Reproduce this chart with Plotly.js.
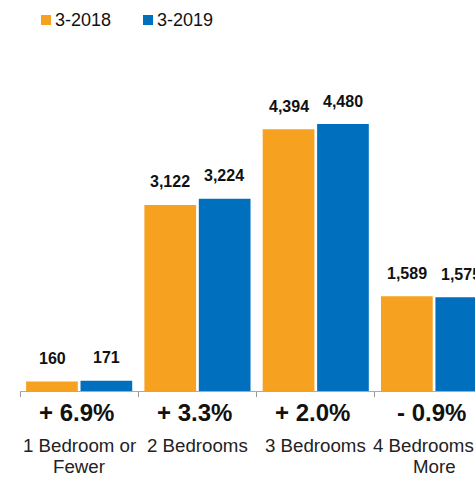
<!DOCTYPE html>
<html>
<head>
<meta charset="utf-8">
<script src="https://cdn.plot.ly/plotly-3.0.1.min.js"></script>
<style>html,body{margin:0;padding:0;background:#fff;overflow:hidden;}</style>
</head>
<body>
<div id="chart" style="width:475px;height:477px;"></div>
<script>
const categories = ["1 Bedroom or<br>Fewer", "2 Bedrooms", "3 Bedrooms", "4 Bedrooms or<br>More"];
const seriesNames = ["3-2018", "3-2019"];
const values2018 = [160, 3122, 4394, 1589];
const values2019 = [171, 3224, 4480, 1575];
const changeLabels = ["+ 6.9%", "+ 3.3%", "+ 2.0%", "- 0.9%"];
const colors = ["#F6A11F", "#0070BE"];

const FONT = "Liberation Sans, Arial, Helvetica, sans-serif";
const xcats = categories.map(function (c, i) { return "c" + i; });

const traces = [values2018, values2019].map(function (vals, k) {
  return {
    type: "bar",
    name: seriesNames[k],
    x: xcats,
    y: vals,
    marker: { color: colors[k], line: { width: 0 } },
    hoverinfo: "skip",
    showlegend: false
  };
});

const annotations = [];
const fmt = function (v) { return v.toLocaleString("en-US"); };
[values2018, values2019].forEach(function (vals, k) {
  vals.forEach(function (v, i) {
    annotations.push({
      x: xcats[i], y: v, xref: "x", yref: "y",
      text: "<b>" + fmt(v) + "</b>",
      showarrow: false, xanchor: "center", yanchor: "middle",
      xshift: k === 0 ? -27 : 27, yshift: 23,
      font: { family: FONT, size: 16, color: "#111" }
    });
  });
});
changeLabels.forEach(function (t, i) {
  annotations.push({
    x: xcats[i], y: 0, xref: "x", yref: "paper",
    text: "<b>" + t + "</b>", showarrow: false,
    xanchor: "center", yanchor: "middle", xshift: -3, yshift: -21,
    font: { family: FONT, size: 24, color: "#111" }
  });
});
categories.forEach(function (c, i) {
  c.split("<br>").forEach(function (line, j) {
    annotations.push({
      x: xcats[i], y: 0, xref: "x", yref: "paper",
      text: line, showarrow: false,
      xanchor: "center", yanchor: "middle", yshift: -54 - 21 * j,
      font: { family: FONT, size: 18.7, color: "#222" }
    });
  });
});
// legend (drawn manually for tight icon/text spacing)
const legendX = [21, 123];
const shapes = [];
seriesNames.forEach(function (n, k) {
  shapes.push({
    type: "rect", xref: "paper", yref: "paper",
    xsizemode: "pixel", ysizemode: "pixel", xanchor: 0, yanchor: 1,
    x0: legendX[k], x1: legendX[k] + 10, y0: 15, y1: 25,
    fillcolor: colors[k], line: { width: 0 }
  });
  annotations.push({
    x: 0, y: 1, xref: "paper", yref: "paper",
    text: n, showarrow: false, xanchor: "left", yanchor: "middle",
    xshift: legendX[k] + 12, yshift: 20,
    font: { family: FONT, size: 18, color: "#111" }
  });
});

const layout = {
  width: 475, height: 477,
  margin: { l: 20, r: 0, t: 40, b: 86, pad: 0 },
  paper_bgcolor: "#fff", plot_bgcolor: "#fff",
  barmode: "group", bargap: 0.08, bargroupgap: 0.05,
  xaxis: {
    type: "category", range: [-0.5, 3.346],
    showticklabels: false, tickson: "boundaries",
    ticks: "outside", ticklen: 5, tickcolor: "#999", tickwidth: 1,
    showline: true, linecolor: "#aaa", linewidth: 1,
    showgrid: false, zeroline: false, fixedrange: true
  },
  yaxis: {
    range: [0, 5890], visible: false, showgrid: false, zeroline: false, fixedrange: true
  },
  annotations: annotations,
  shapes: shapes,
  showlegend: false
};

Plotly.newPlot("chart", traces, layout, { displayModeBar: false, staticPlot: true });
</script>
</body>
</html>
